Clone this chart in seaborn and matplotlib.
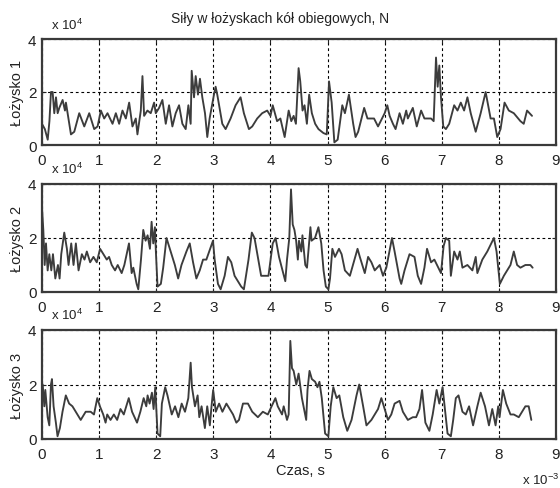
import matplotlib
matplotlib.use("Agg")
import matplotlib.pyplot as plt
import pandas as pd
import seaborn as sns

# Bearing force histories, time in ms (x 10^-3 s), force in x 10^4 N
t1 = [0.0, 0.05, 0.10, 0.13, 0.157, 0.186, 0.215, 0.245, 0.274, 0.303, 0.361, 0.402, 0.419,
      0.507, 0.565, 0.652, 0.74, 0.827, 0.914, 0.973, 1.031, 1.089, 1.147, 1.235, 1.293,
      1.351, 1.409, 1.468, 1.526, 1.584, 1.642, 1.671, 1.73, 1.759, 1.788, 1.846, 1.904,
      1.963, 1.992, 2.05, 2.108, 2.167, 2.225, 2.283, 2.341, 2.4, 2.458, 2.516, 2.563,
      2.603, 2.621, 2.662, 2.691, 2.731, 2.766, 2.807, 2.854, 2.894, 2.935, 3.011, 3.04,
      3.069, 3.157, 3.215, 3.302, 3.39, 3.477, 3.535, 3.623, 3.681, 3.768, 3.855, 3.943,
      4.001, 4.04, 4.116, 4.174, 4.249, 4.319, 4.365, 4.406, 4.446, 4.493, 4.522, 4.562,
      4.597, 4.638, 4.678, 4.725, 4.783, 4.841, 4.928, 4.986, 5.026, 5.072, 5.119, 5.177,
      5.258, 5.304, 5.374, 5.449, 5.49, 5.536, 5.641, 5.699, 5.814, 5.884, 6.0, 6.046,
      6.087, 6.145, 6.191, 6.261, 6.319, 6.377, 6.406, 6.493, 6.562, 6.638, 6.696, 6.812,
      6.858, 6.899, 6.928, 6.957, 6.986, 7.026, 7.072, 7.13, 7.217, 7.275, 7.333, 7.391,
      7.449, 7.507, 7.594, 7.681, 7.768, 7.855, 7.913, 7.971, 8.029, 8.099, 8.174, 8.261,
      8.377, 8.435, 8.493, 8.58]
f1 = [0.8, 0.6, 0.2, 0.9, 2.0, 2.0, 1.2, 1.8, 1.2, 1.4, 1.7, 1.3, 1.6,
      0.4, 0.5, 1.2, 0.7, 1.2, 0.6, 0.7, 1.3, 1.0, 1.2, 0.8, 1.2,
      0.8, 1.3, 1.0, 1.6, 0.7, 1.0, 0.4, 1.3, 2.6, 1.1, 1.3, 1.2,
      1.6, 1.2, 1.4, 1.7, 0.8, 1.5, 0.7, 1.2, 1.5, 0.8, 0.6, 1.5,
      0.8, 2.8, 1.8, 2.6, 1.9, 2.5, 1.8, 1.2, 0.3, 1.0, 1.9, 2.2,
      1.9, 0.8, 0.6, 1.0, 1.5, 1.8, 1.2, 0.6, 0.7, 1.0, 1.2, 1.3,
      1.1, 1.5, 0.9, 1.0, 0.3, 1.3, 0.9, 1.1, 0.8, 2.9, 2.4, 1.3,
      1.5, 0.8, 1.9, 1.2, 0.8, 0.6, 0.45, 0.4, 2.4, 1.6, 0.1, 0.2,
      1.5, 1.2, 1.9, 0.8, 0.3, 0.5, 1.4, 1.0, 1.0, 0.7, 1.2, 1.5,
      1.1, 0.8, 0.6, 1.2, 0.8, 1.3, 1.0, 1.4, 0.7, 1.3, 1.0, 1.0,
      0.9, 3.3, 2.2, 3.0, 1.8, 0.7, 0.6, 0.8, 1.5, 1.3, 1.6, 1.3,
      1.8, 1.2, 0.5, 1.2, 2.0, 1.0, 1.0, 0.3, 0.6, 1.6, 1.3, 1.2,
      0.9, 0.8, 1.3, 1.1]

t2 = [0.0, 0.023, 0.047, 0.07, 0.099, 0.128, 0.163, 0.192, 0.233, 0.279, 0.308, 0.337, 0.39,
      0.436, 0.465, 0.512, 0.552, 0.593, 0.64, 0.698, 0.744, 0.785, 0.843, 0.901, 0.959,
      1.017, 1.076, 1.134, 1.174, 1.221, 1.279, 1.326, 1.395, 1.442, 1.523, 1.57, 1.599,
      1.657, 1.686, 1.715, 1.733, 1.773, 1.814, 1.849, 1.89, 1.919, 1.948, 1.977, 1.994,
      2.023, 2.081, 2.122, 2.18, 2.238, 2.326, 2.384, 2.442, 2.529, 2.587, 2.645, 2.703,
      2.762, 2.82, 2.878, 2.994, 3.023, 3.081, 3.128, 3.198, 3.256, 3.314, 3.372, 3.488,
      3.535, 3.616, 3.674, 3.721, 3.779, 3.837, 3.895, 3.965, 4.04, 4.09, 4.15, 4.21,
      4.26, 4.29, 4.33, 4.36, 4.39, 4.42, 4.45, 4.48, 4.5, 4.54, 4.56, 4.61, 4.64, 4.7,
      4.72, 4.78, 4.84, 4.89, 4.93, 4.97, 5.015, 5.043, 5.084, 5.13, 5.2, 5.246, 5.304,
      5.391, 5.525, 5.565, 5.652, 5.71, 5.768, 5.826, 5.913, 5.971, 6.029, 6.128, 6.174,
      6.261, 6.29, 6.348, 6.435, 6.522, 6.58, 6.638, 6.696, 6.742, 6.812, 6.87, 6.986,
      7.032, 7.072, 7.13, 7.159, 7.217, 7.275, 7.316, 7.362, 7.449, 7.536, 7.594, 7.623,
      7.71, 7.797, 7.913, 7.959, 8.017, 8.087, 8.145, 8.203, 8.261, 8.319, 8.377, 8.464,
      8.551, 8.591]
f2 = [3.1, 2.3, 1.0, 1.8, 0.8, 1.4, 0.8, 1.4, 0.5, 1.0, 0.5, 1.4, 2.2,
      1.6, 1.0, 1.8, 1.0, 1.8, 0.8, 1.4, 1.2, 1.5, 1.1, 1.3, 1.1,
      1.6, 1.4, 1.2, 1.3, 1.0, 0.8, 1.0, 0.7, 1.0, 1.8, 0.7, 0.9,
      0.3, 0.1, 0.8, 1.2, 2.3, 1.9, 2.1, 1.6, 2.6, 1.8, 2.4, 1.5,
      0.2, 0.3, 0.9, 2.0, 1.6, 1.0, 0.5, 1.0, 1.5, 1.8, 1.1, 0.5,
      0.8, 1.2, 1.2, 1.9, 1.2, 0.3, 0.1, 0.6, 1.3, 1.1, 0.6, 0.2,
      0.1, 1.2, 2.2, 2.0, 1.3, 0.6, 0.6, 0.6, 1.8, 2.0, 1.3, 0.8,
      0.4, 1.2, 2.0, 3.8, 2.5, 2.3, 1.9, 1.2, 1.9, 1.5, 2.1, 1.0, 0.9, 2.4,
      1.9, 2.0, 2.4, 1.8, 0.8, 0.2, 0.1, 0.5, 1.6, 1.3, 1.6, 1.4, 0.8,
      0.6, 1.6, 1.3, 0.7, 1.3, 1.1, 0.8, 1.0, 0.6, 0.9, 2.0, 1.5,
      0.5, 0.3, 0.8, 1.4, 1.3, 0.6, 0.3, 0.9, 1.6, 1.1, 1.2, 0.7,
      1.7, 2.0, 1.9, 0.6, 1.5, 1.2, 1.5, 0.9, 1.0, 0.8, 1.3, 0.7,
      1.2, 1.5, 2.0, 1.5, 0.3, 0.6, 0.8, 1.0, 1.5, 1.0, 0.9, 1.0,
      1.0, 0.9]

t3 = [0.012, 0.041, 0.058, 0.099, 0.128, 0.157, 0.174, 0.203, 0.243, 0.272, 0.313, 0.359,
      0.417, 0.475, 0.533, 0.62, 0.678, 0.765, 0.852, 0.91, 0.968, 1.014, 1.072, 1.113,
      1.142, 1.2, 1.258, 1.316, 1.374, 1.432, 1.519, 1.577, 1.664, 1.722, 1.78, 1.826,
      1.849, 1.884, 1.925, 1.954, 1.983, 2.023, 2.07, 2.099, 2.157, 2.197, 2.272, 2.33,
      2.388, 2.446, 2.504, 2.562, 2.603, 2.626, 2.678, 2.725, 2.754, 2.794, 2.852, 2.893,
      2.939, 2.968, 2.997, 3.043, 3.101, 3.159, 3.229, 3.287, 3.345, 3.403, 3.449, 3.519,
      3.606, 3.681, 3.78, 3.867, 3.954, 4.087, 4.128, 4.203, 4.232, 4.29, 4.319, 4.348,
      4.377, 4.406, 4.452, 4.493, 4.551, 4.626, 4.649, 4.684, 4.725, 4.783, 4.823, 4.858,
      4.899, 4.957, 5.014, 5.055, 5.101, 5.159, 5.206, 5.275, 5.345, 5.42, 5.507, 5.554,
      5.623, 5.681, 5.768, 5.884, 5.942, 6.0, 6.058, 6.116, 6.174, 6.261, 6.319, 6.406,
      6.493, 6.551, 6.609, 6.655, 6.713, 6.783, 6.841, 6.91, 6.957, 7.014, 7.101, 7.159,
      7.2, 7.246, 7.293, 7.362, 7.42, 7.478, 7.548, 7.623, 7.681, 7.757, 7.826, 7.884,
      7.942, 7.988, 8.012, 8.07, 8.128, 8.203, 8.261, 8.348, 8.464, 8.522, 8.568]
f3 = [2.0, 1.2, 1.8, 0.8, 0.5, 2.0, 2.2, 1.2, 0.6, 0.1, 0.4, 1.0,
      1.6, 1.3, 1.2, 0.9, 0.7, 1.0, 1.0, 0.9, 1.5, 1.2, 0.9, 0.6,
      0.9, 0.7, 0.9, 0.7, 1.1, 0.9, 1.5, 1.0, 0.6, 1.0, 1.5, 1.2,
      1.6, 1.3, 1.7, 1.1, 1.9, 0.2, 0.1, 1.3, 1.9, 1.6, 0.9, 1.2,
      0.8, 1.3, 1.0, 1.5, 2.8, 1.9, 1.2, 1.6, 0.8, 1.2, 0.4, 1.2,
      0.5, 1.2, 1.8, 1.0, 1.3, 1.0, 1.3, 1.1, 0.9, 0.6, 0.7, 1.3,
      1.3, 1.0, 0.8, 1.0, 0.9, 1.5, 1.2, 0.9, 1.2, 0.7, 0.9, 3.6,
      2.6, 2.5, 2.0, 2.4, 1.5, 0.7, 1.8, 2.5, 2.2, 2.1, 1.9, 2.1,
      1.5, 0.2, 0.1, 1.2, 1.9, 1.5, 1.6, 0.8, 0.3, 0.7, 1.6, 2.0,
      1.2, 0.5, 0.7, 1.1, 1.5, 1.1, 0.7, 0.9, 1.3, 1.4, 1.0, 0.7,
      0.8, 0.8, 1.1, 1.8, 0.6, 0.3, 0.9, 1.8, 1.3, 1.9, 0.2, 0.1,
      0.7, 1.5, 1.6, 1.0, 0.9, 1.2, 0.5, 1.2, 1.7, 1.2, 0.5, 1.1,
      0.5, 1.2, 0.8, 1.8, 1.3, 0.9, 0.9, 0.8, 1.2, 1.2, 0.7]

series = [(t1, f1, "Łożysko 1"), (t2, f2, "Łożysko 2"), (t3, f3, "Łożysko 3")]
x_ticks = list(range(10))
y_ticks = [0, 2, 4]

sns.set_style("ticks")
plt.rcParams["font.family"] = ["Liberation Sans", "DejaVu Sans"]
plt.rcParams["mathtext.fontset"] = "custom"
plt.rcParams["mathtext.rm"] = "Liberation Sans"

W, H = 560, 489
fig = plt.figure(figsize=(W / 100, H / 100), dpi=100)
fig.patch.set_facecolor("white")

# axes boxes in pixels: (left, top, bottom)
boxes = [(42, 40, 146), (42, 185, 293), (42, 331, 440)]
right = 556
frame_col = "#3a3a3a"
line_col = "#3c3c3c"
text_col = "#222222"

for (left, top, bot), (t, f, name) in zip(boxes, series):
    ax = fig.add_axes([left / W, 1 - bot / H, (right - left) / W, (bot - top) / H])
    df = pd.DataFrame({"t": t, "F": f})
    sns.lineplot(data=df, x="t", y="F", ax=ax, color=line_col, lw=1.35,
                 estimator=None, sort=False)
    ax.set_xlim(0, 9)
    ax.set_ylim(0, 4)
    ax.set_xticks(x_ticks)
    ax.set_yticks(y_ticks)
    ax.grid(True, color="black", ls=(0, (2.5, 2.5)), lw=0.8)
    ax.set_xlabel("")
    ax.set_ylabel(name, fontsize=10.5, labelpad=3, color=text_col)
    ax.tick_params(direction="in", length=3, width=0.8, top=True, right=True,
                   labelsize=11, colors=text_col)
    ax.tick_params(axis="x", pad=6)
    ax.tick_params(axis="y", pad=4)
    for s in ax.spines.values():
        s.set_color(frame_col)
        s.set_linewidth(1.6)
    ax.text(0.018, 1.07, r"x 10$^{4}$", transform=ax.transAxes, fontsize=9.5,
            ha="left", va="bottom", color=text_col)

fig.text(280 / W, 1 - 19 / H, "Siły w łożyskach kół obiegowych, N",
         ha="center", va="center", fontsize=10, color=text_col)
fig.text(300 / W, 1 - 471 / H, "Czas, s", ha="center", va="center",
         fontsize=10.5, color=text_col)
fig.text(522 / W, 1 - 485 / H, r"x 10$^{-3}$", ha="left", va="baseline",
         fontsize=9.5, color=text_col)

fig.savefig("out.png", dpi=100, facecolor="white")
